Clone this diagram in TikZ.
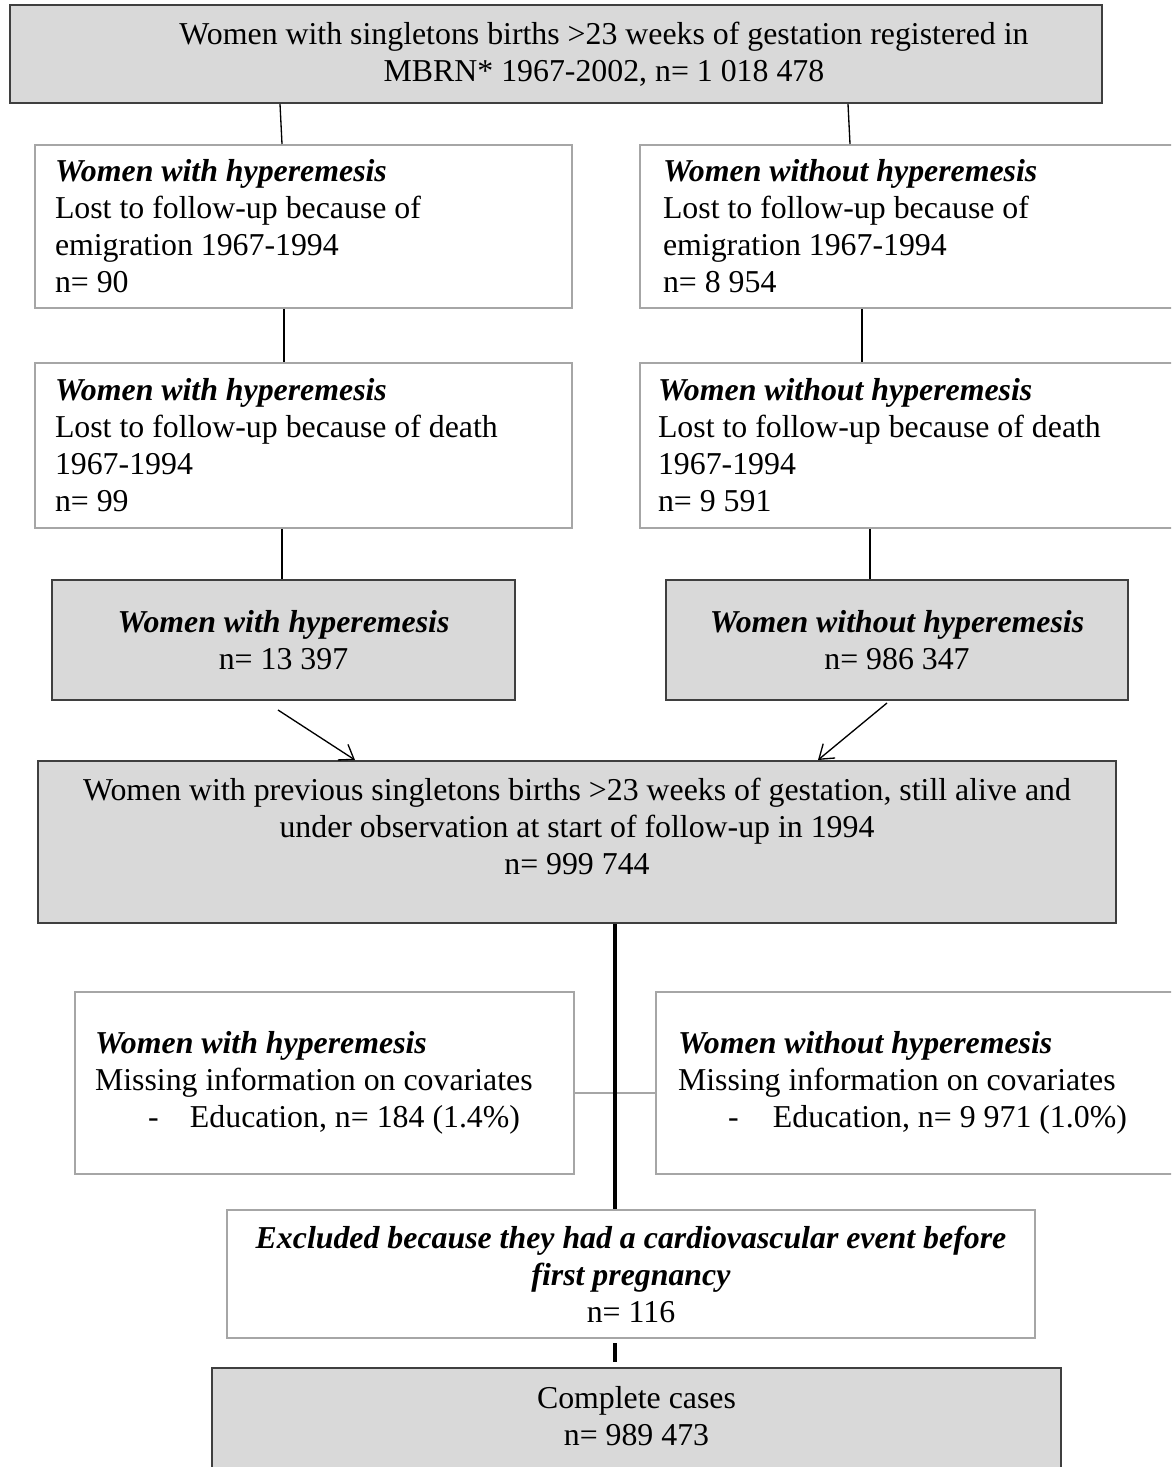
\documentclass[tikz,border=0pt]{standalone}
\usepackage{fontspec}
\setmainfont{Liberation Serif}
\usetikzlibrary{arrows.meta}
\newlength\U
\setlength\U{0.377pt}
\definecolor{boxgray}{HTML}{D9D9D9}
\definecolor{darkedge}{HTML}{3F3F3F}
\definecolor{lightedge}{HTML}{A6A6A6}
\tikzset{
  txt/.style={font=\fontsize{12}{13.95}\selectfont},
  graybox/.style={txt, rectangle, draw=darkedge, fill=boxgray, line width=0.75pt, inner sep=0pt, align=center},
  whitebox/.style={txt, rectangle, draw=lightedge, fill=white, line width=0.75pt, inner sep=0pt},
  conn/.style={line width=0.5pt, draw=black},
  spineline/.style={line width=1.2pt, draw=black},
  arr/.style={line width=0.5pt, -{Straight Barb[length=5pt,width=7pt]}},
  grayconn/.style={line width=0.75pt, draw=lightedge}
}
\begin{document}
\begin{tikzpicture}[x=\U, y=-\U]
\clip (0,0) rectangle (1171,1467);
\fill[white] (0,0) rectangle (1171,1467);
\coordinate (spine) at (615,0);

% top
\node[graybox, minimum width=1092*\U, minimum height=98*\U] (T) at (556,54)
  {\hspace*{96\U}\parbox{900\U}{\centering Women with singletons births >23 weeks of gestation registered in\\ MBRN* 1967-2002, n= 1 018 478}};

% row 1
\node[whitebox, minimum width=537*\U, minimum height=163*\U, text width=497*\U, align=flush left] (L1) at (303.5,226.5)
  {\textbf{\textit{Women with hyperemesis}}\\ Lost to follow-up because of\\ emigration 1967-1994\\ n= 90};
\node[whitebox, minimum width=560*\U, minimum height=163*\U, text width=514*\U, align=flush left] (R1) at (920,226.5)
  {\textbf{\textit{Women without hyperemesis}}\\ Lost to follow-up because of\\ emigration 1967-1994\\ n= 8 954};

% row 2
\node[whitebox, minimum width=537*\U, minimum height=165*\U, text width=497*\U, align=flush left] (L2) at (303.5,445.5)
  {\textbf{\textit{Women with hyperemesis}}\\ Lost to follow-up because of death\\ 1967-1994\\ n= 99};
\node[whitebox, minimum width=560*\U, minimum height=165*\U, text width=524*\U, align=flush left] (R2) at (920,445.5)
  {\textbf{\textit{Women without hyperemesis}}\\ Lost to follow-up because of death\\ 1967-1994\\ n= 9 591};

% row 3
\node[graybox, minimum width=463*\U, minimum height=120*\U] (L3) at (283.5,640)
  {\textbf{\textit{Women with hyperemesis}}\\ n= 13 397};
\node[graybox, minimum width=462*\U, minimum height=120*\U] (R3) at (897,640)
  {\textbf{\textit{Women without hyperemesis}}\\ n= 986 347};

% big box
\node[graybox, minimum width=1078*\U, minimum height=162*\U] (B) at (577,842)
  {Women with previous singletons births >23 weeks of gestation, still alive and\\ under observation at start of follow-up in 1994\\ n= 999 744\\[-2pt] \mbox{}};

% row 4
\node[whitebox, minimum width=499*\U, minimum height=182*\U, text width=459*\U, align=flush left] (L4) at (324.5,1083)
  {\textbf{\textit{Women with hyperemesis}}\\ Missing information on covariates\\ \hspace*{53\U}\makebox[42\U][l]{-}Education, n= 184 (1.4\%)};
\node[whitebox, minimum width=560*\U, minimum height=182*\U, text width=516*\U, align=flush left] (R4) at (936,1083)
  {\textbf{\textit{Women without hyperemesis}}\\ Missing information on covariates\\ \hspace*{50\U}\makebox[45\U][l]{-}Education, n= 9 971 (1.0\%)};

% excluded
\node[whitebox, minimum width=808*\U, minimum height=128*\U, align=center] (E) at (631,1274)
  {\textbf{\textit{Excluded because they had a cardiovascular event before}}\\ \textbf{\textit{first pregnancy}}\\ n= 116};

% complete
\node[graybox, minimum width=849*\U, minimum height=110*\U] (F) at (636.5,1423)
  {Complete cases\\ n= 989 473\\[-9pt]\mbox{}};

% connectors
\draw[conn] ([xshift=-276\U]T.south) -- ([xshift=-21.5\U]L1.north);
\draw[conn] ([xshift=292\U]T.south) -- ([xshift=-70\U]R1.north);
\draw[conn] ([xshift=-19.5\U]L1.south) -- ([xshift=-19.5\U]L2.north);
\draw[conn] ([xshift=-58\U]R1.south) -- ([xshift=-58\U]R2.north);
\draw[conn] ([xshift=-21.5\U]L2.south) -- ([xshift=-1.5\U]L3.north);
\draw[conn] ([xshift=-50\U]R2.south) -- ([xshift=-27\U]R3.north);
\draw[arr] ([xshift=-5.5\U,yshift=-9\U]L3.south) -- ([xshift=-222\U]B.north);
\draw[arr] ([xshift=-10\U,yshift=-2\U]R3.south) -- ([xshift=241\U]B.north);
\draw[grayconn] ([yshift=-10\U]L4.east) -- ([yshift=-10\U]R4.west);
\draw[spineline] (B.south -| spine) -- (E.north -| spine);
\draw[spineline] ([yshift=-4\U]E.south -| spine) -- ([yshift=5\U]F.north -| spine);
\end{tikzpicture}
\end{document}
